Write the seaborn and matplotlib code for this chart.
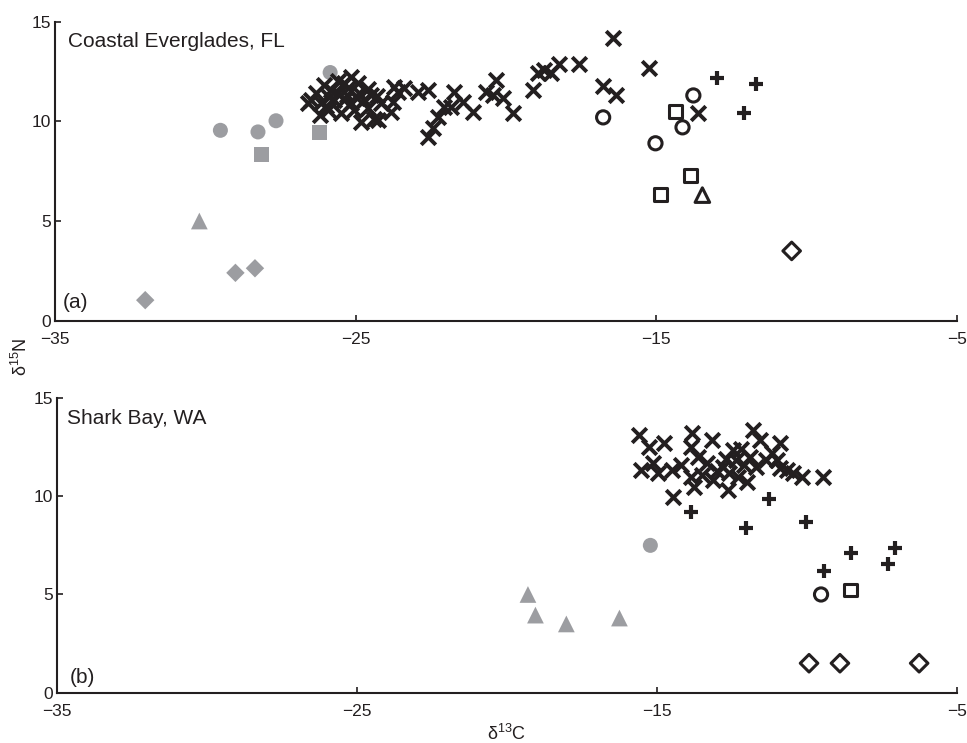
import pandas as pd
import matplotlib
matplotlib.use("Agg")
import matplotlib.pyplot as plt
import seaborn as sns

# d13C / d15N values
# (a) Coastal Everglades, FL
ev_gray_circle_x = [-29.5, -28.25, -27.65, -25.85]
ev_gray_circle_y = [9.55, 9.47, 10.03, 12.45]
ev_gray_square_x = [-28.13, -26.2]
ev_gray_square_y = [8.35, 9.45]
ev_gray_tri_x = [-30.2]
ev_gray_tri_y = [5.0]
ev_gray_diam_x = [-32.0, -29.0, -28.35]
ev_gray_diam_y = [1.03, 2.4, 2.63]
ev_circle_x = [-16.77, -15.03, -14.13, -13.77]
ev_circle_y = [10.2, 8.9, 9.7, 11.3]
ev_square_x = [-14.37, -13.87, -14.87]
ev_square_y = [10.5, 7.3, 6.35]
ev_tri_x = [-13.47]
ev_tri_y = [6.3]
ev_diam_x = [-10.5]
ev_diam_y = [3.5]
ev_plus_x = [-12.97, -11.67, -12.07]
ev_plus_y = [12.2, 11.85, 10.4]
ev_cross_x = [-26.6, -25.17, -25.6, -24.83, -24.4, -25.93, -24.9, -24.5, -24.17,
              -26.33, -26.5, -26.17, -25.83, -25.4, -25.07, -25.5, -24.6, -25.27,
              -26.07, -24.93, -25.73, -24.73, -25.17, -26.2, -25.9, -25.3, -24.95,
              -25.6, -26.0, -25.4, -24.6, -24.3, -24.27, -23.73, -23.6, -23.77,
              -23.83, -23.4, -22.93, -22.6, -22.6, -22.43, -22.27, -22.07, -21.73,
              -21.43, -21.1, -21.83, -20.67, -20.43, -20.33, -20.1, -19.77, -19.1,
              -18.93, -18.73, -18.5, -18.23, -17.57, -16.43, -16.77, -16.33,
              -15.23, -13.6]
ev_cross_y = [10.9, 12.25, 12.0, 9.95, 10.1, 10.56, 11.4, 11.3, 10.9,
              11.4, 11.05, 10.9, 11.56, 11.05, 10.56, 10.4, 10.66, 11.66,
              11.8, 11.9, 11.05, 11.05, 10.9, 10.3, 11.2, 11.3, 11.15,
              11.4, 10.75, 11.9, 11.6, 11.25, 10.05, 11.7, 11.46, 10.96,
              10.46, 11.66, 11.46, 11.56, 9.24, 9.66, 10.2, 10.7, 11.46,
              10.96, 10.46, 10.7, 11.46, 11.3, 12.06, 11.15, 10.4, 11.56,
              12.45, 12.56, 12.45, 12.9, 12.87, 14.17, 11.77, 11.3,
              12.67, 10.4]

# (b) Shark Bay, WA
sb_gray_circle_x = [-15.22]
sb_gray_circle_y = [7.5]
sb_gray_tri_x = [-19.3, -19.05, -18.02, -16.25]
sb_gray_tri_y = [5.0, 3.95, 3.5, 3.8]
sb_circle_x = [-9.53]
sb_circle_y = [5.0]
sb_square_x = [-8.56]
sb_square_y = [5.23]
sb_diam_x = [-9.93, -8.9, -6.26]
sb_diam_y = [1.5, 1.5, 1.5]
sb_plus_x = [-13.85, -12.02, -11.25, -10.03, -9.43, -8.53, -7.3, -7.06]
sb_plus_y = [9.2, 8.38, 9.86, 8.69, 6.19, 7.1, 6.54, 7.36]
sb_cross_x = [-15.6, -15.27, -14.77, -15.53, -15.13, -14.97, -14.5, -14.45,
              -13.82, -13.88, -13.15, -13.62, -13.88, -13.78, -13.32, -13.12,
              -12.62, -12.46, -11.79, -11.56, -10.9, -11.0, -12.36, -11.36,
              -10.9, -10.46, -10.16, -9.46, -10.66, -11.16, -12.8, -12.6,
              -12.3, -12.1, -11.9, -12.2, -12.7, -13.0, -11.7, -12.0, -13.5,
              -14.2]
sb_cross_y = [13.1, 12.5, 12.7, 11.33, 11.68, 11.18, 11.33, 9.96,
              13.2, 12.5, 12.86, 12.0, 10.98, 10.47, 11.68, 10.82,
              10.3, 12.34, 13.36, 12.86, 12.7, 11.84, 11.84, 11.84,
              11.43, 11.18, 10.98, 10.98, 11.33, 12.2, 11.5, 11.2,
              11.0, 11.6, 12.0, 12.4, 11.9, 11.3, 11.5, 10.7, 11.1,
              11.6]

GRAY = '#9c9da1'
BLACK = '#231f20'

sns.set_style('ticks')
plt.rcParams['font.family'] = ['Liberation Sans', 'DejaVu Sans']
plt.rcParams['mathtext.fontset'] = 'custom'
plt.rcParams['mathtext.rm'] = 'Liberation Sans'

# marker style per group: (marker, size, filled colour or None, line width)
styles = {
    'gray_circle': ('o', 117, GRAY, 0),
    'gray_square': ('s', 117, GRAY, 0),
    'gray_tri': ('^', 145, GRAY, 0),
    'gray_diam': ('D', 88, GRAY, 0),
    'circle': ('o', 90, None, 2.2),
    'square': ('s', 85, None, 2.2),
    'tri': ('^', 110, None, 2.2),
    'diam': ('D', 80, None, 2.2),
    'cross': ('x', 110, BLACK, 2.8),
    'plus': ('+', 105, BLACK, 3.0),
}


def draw(ax, groups):
    for name, xs, ys in groups:
        marker, size, fill, lw = styles[name]
        d = pd.DataFrame({'d13C': xs, 'd15N': ys})
        if fill == GRAY:
            sns.scatterplot(data=d, x='d13C', y='d15N', ax=ax, marker=marker,
                            s=size, color=GRAY, edgecolor='none', linewidth=0,
                            zorder=2)
        elif fill is None:
            sns.scatterplot(data=d, x='d13C', y='d15N', ax=ax, marker=marker,
                            s=size, color=BLACK, facecolor='none',
                            edgecolor=BLACK, linewidth=lw, zorder=3)
        else:
            sns.scatterplot(data=d, x='d13C', y='d15N', ax=ax, marker=marker,
                            s=size, color=BLACK, edgecolor=None,
                            linewidth=lw, zorder=3)


fig = plt.figure(figsize=(9.67, 7.43), dpi=100)
ax1 = fig.add_axes([0.0569, 0.5684, 0.9328, 0.4024])
ax2 = fig.add_axes([0.0589, 0.0677, 0.9307, 0.3966])

draw(ax1, [
    ('gray_circle', ev_gray_circle_x, ev_gray_circle_y),
    ('gray_square', ev_gray_square_x, ev_gray_square_y),
    ('gray_tri', ev_gray_tri_x, ev_gray_tri_y),
    ('gray_diam', ev_gray_diam_x, ev_gray_diam_y),
    ('cross', ev_cross_x, ev_cross_y),
    ('plus', ev_plus_x, ev_plus_y),
    ('circle', ev_circle_x, ev_circle_y),
    ('square', ev_square_x, ev_square_y),
    ('tri', ev_tri_x, ev_tri_y),
    ('diam', ev_diam_x, ev_diam_y),
])
draw(ax2, [
    ('gray_circle', sb_gray_circle_x, sb_gray_circle_y),
    ('gray_tri', sb_gray_tri_x, sb_gray_tri_y),
    ('cross', sb_cross_x, sb_cross_y),
    ('plus', sb_plus_x, sb_plus_y),
    ('circle', sb_circle_x, sb_circle_y),
    ('square', sb_square_x, sb_square_y),
    ('diam', sb_diam_x, sb_diam_y),
])

for ax in (ax1, ax2):
    ax.set_xlim(-35, -5)
    ax.set_ylim(0, 15)
    ax.set_xticks([-35, -25, -15, -5])
    ax.set_yticks([0, 5, 10, 15])
    sns.despine(ax=ax)
    for side in ('left', 'bottom'):
        ax.spines[side].set_linewidth(1.5)
        ax.spines[side].set_color(BLACK)
    ax.tick_params(axis='both', direction='in', length=4, width=1.2,
                   color=BLACK, labelsize=12.5, labelcolor=BLACK)
    ax.tick_params(axis='x', pad=8)
    ax.tick_params(axis='y', pad=3)
    ax.set_xlabel('')
    ax.set_ylabel('')
    for c in ax.collections:
        c.set_clip_on(False)

ax1.text(0.014, 0.915, 'Coastal Everglades, FL', transform=ax1.transAxes,
         fontsize=15, color=BLACK, va='baseline')
ax1.text(0.009, 0.042, '(a)', transform=ax1.transAxes,
         fontsize=15, color=BLACK, va='baseline')
ax2.text(0.011, 0.912, 'Shark Bay, WA', transform=ax2.transAxes,
         fontsize=15, color=BLACK, va='baseline')
ax2.text(0.014, 0.033, '(b)', transform=ax2.transAxes,
         fontsize=15, color=BLACK, va='baseline')

ax2.set_xlabel('δ$^{13}$C', fontsize=13, color=BLACK, labelpad=4)
fig.text(0.022, 0.52, 'δ$^{15}$N', rotation=90, fontsize=13, color=BLACK,
         ha='center', va='center')

fig.savefig('out.png', dpi=100)
